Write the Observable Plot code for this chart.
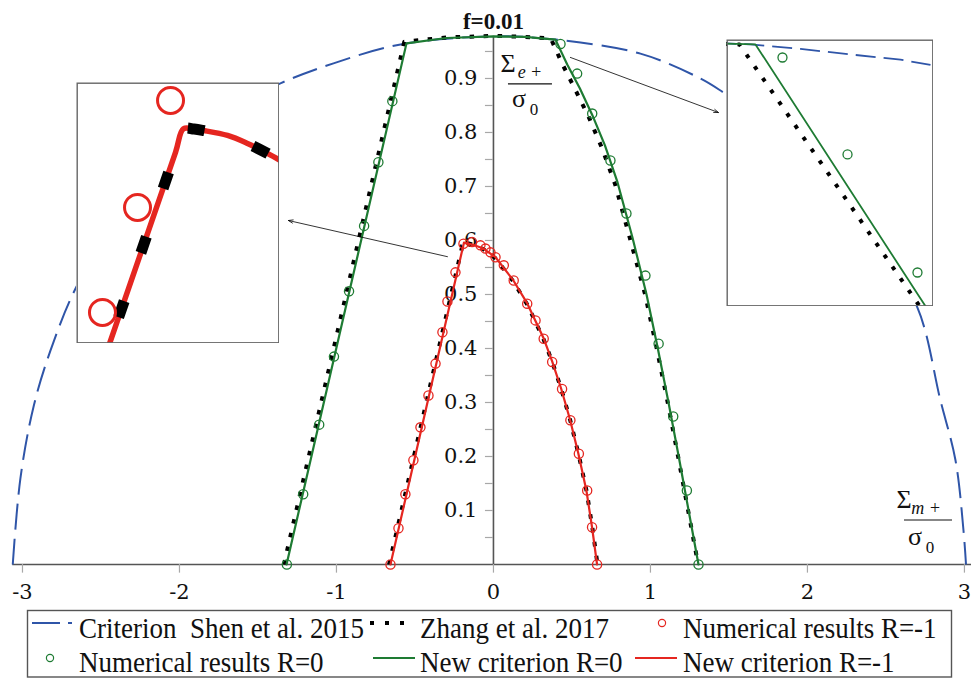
<!DOCTYPE html>
<html>
<head>
<meta charset="utf-8">
<script src="https://cdn.jsdelivr.net/npm/d3@7"></script>
<script src="https://cdn.jsdelivr.net/npm/@observablehq/plot@0.6"></script>
<style>
  html, body { margin: 0; padding: 0; background: #fff; }
  #fig { position: relative; width: 971px; height: 679px; overflow: hidden; background: #fff; }
  #fig svg { position: absolute; }
</style>
</head>
<body>
<div id="fig"></div>
<script>
// Yield surfaces for porosity f = 0.01: Σe+/σ0 against Σm+/σ0.

const title = "f=0.01";

// Criterion of Shen et al. 2015 (blue long dashes)
const shen2015 = [
  [-3.062, 0.000], [-3.013, 0.160], [-2.928, 0.294], [-2.822, 0.396], [-2.662, 0.511],
  [-2.400, 0.640], [-2.050, 0.760], [-1.700, 0.840], [-1.357, 0.891], [-1.019, 0.928],
  [-0.592, 0.963], [0.000, 0.978], [0.395, 0.972], [0.936, 0.946], [1.318, 0.900],
  [1.465, 0.874], [1.800, 0.805], [2.150, 0.715], [2.450, 0.590], [2.700, 0.476],
  [2.847, 0.304], [2.943, 0.193], [2.994, 0.063], [3.010, 0.000]
];

// Zhang et al. 2017 (black dots), R = 0 and R = -1
const zhangR0 = [
  [-1.335, 0.000], [-0.568, 0.968], [-0.300, 0.976], [0.000, 0.979], [0.200, 0.977],
  [0.365, 0.974], [0.440, 0.926], [0.520, 0.880], [0.605, 0.830], [0.690, 0.772],
  [0.775, 0.704], [0.873, 0.600], [0.966, 0.500], [1.040, 0.400], [1.110, 0.300],
  [1.176, 0.200], [1.240, 0.100], [1.304, 0.000]
];
const zhangRm1 = [
  [-0.665, 0.000], [-0.192, 0.598], [-0.130, 0.592], [-0.064, 0.584], [0.013, 0.567],
  [0.127, 0.524], [0.216, 0.481], [0.318, 0.418], [0.376, 0.374], [0.434, 0.323],
  [0.490, 0.266], [0.543, 0.203], [0.594, 0.135], [0.630, 0.068], [0.663, 0.000]
];

// New criterion, R = 0 (green) and R = -1 (red)
const newR0 = [
  [-1.318, 0.000], [-0.554, 0.965], [-0.300, 0.975], [0.000, 0.978], [0.200, 0.977],
  [0.395, 0.972], [0.470, 0.926], [0.550, 0.882], [0.630, 0.832], [0.710, 0.776],
  [0.790, 0.708], [0.885, 0.606], [0.975, 0.500], [1.047, 0.400], [1.115, 0.300],
  [1.180, 0.200], [1.243, 0.100], [1.306, 0.000]
];
const newRm1 = [
  [-0.656, 0.000], [-0.188, 0.596], [-0.130, 0.592], [-0.064, 0.585], [0.013, 0.569],
  [0.127, 0.526], [0.216, 0.483], [0.318, 0.420], [0.374, 0.376], [0.432, 0.325],
  [0.488, 0.268], [0.541, 0.205], [0.592, 0.137], [0.628, 0.069], [0.660, 0.000]
];

// Numerical results (open circles)
const numR0 = [
  [-1.316, 0.000], [-1.212, 0.130], [-1.110, 0.259], [-1.016, 0.385], [-0.920, 0.506],
  [-0.824, 0.627], [-0.733, 0.745], [-0.644, 0.858],
  [0.427, 0.964], [0.533, 0.909], [0.629, 0.835], [0.745, 0.748], [0.847, 0.650],
  [0.968, 0.535], [1.052, 0.409], [1.145, 0.274], [1.232, 0.137], [1.306, 0.000]
];
const numRm1 = [
  [-0.656, 0.000], [-0.605, 0.067], [-0.561, 0.130], [-0.510, 0.193], [-0.465, 0.254],
  [-0.414, 0.313], [-0.369, 0.372], [-0.325, 0.430], [-0.293, 0.487], [-0.242, 0.541],
  [-0.191, 0.594], [-0.136, 0.597], [-0.083, 0.591], [-0.051, 0.585], [-0.019, 0.578],
  [0.013, 0.569], [0.066, 0.554], [0.129, 0.526], [0.215, 0.483], [0.268, 0.452],
  [0.320, 0.418], [0.374, 0.375], [0.437, 0.325], [0.490, 0.267], [0.544, 0.205],
  [0.597, 0.137], [0.628, 0.069], [0.660, 0.000]
];

// Axis ticks
const xTicks = [-3, -2, -1, 0, 1, 2, 3];
const yTicks = [0.1, 0.2, 0.3, 0.4, 0.5, 0.6, 0.7, 0.8, 0.9];
const yMinorTicks = [0.05, 0.1, 0.15, 0.2, 0.25, 0.3, 0.35, 0.4, 0.45, 0.5,
                     0.55, 0.6, 0.65, 0.7, 0.75, 0.8, 0.85, 0.9, 0.95];

// Magnified view near the peak of the R = -1 surface
const zoomLeftDomain = {x: [-0.368, -0.0297], y: [0.460, 0.6231]};
const zoomLeftNew = [
  [-0.323, 0.449], [-0.2030, 0.5795], [-0.1897, 0.5942], [-0.1720, 0.5940],
  [-0.1563, 0.5931], [-0.1163, 0.5900], [-0.0830, 0.5850], [-0.0497, 0.5788], [-0.0197, 0.5725]
];
const zoomLeftZhang = [
  [-0.323, 0.449], [-0.2030, 0.5795], [-0.1897, 0.5942], [-0.1720, 0.5940],
  [-0.1563, 0.5931], [-0.1163, 0.5900], [-0.0830, 0.5850], [-0.0497, 0.5788], [-0.0197, 0.5725]
];
const zoomLeftNum = [[-0.2113, 0.6119], [-0.2663, 0.5450], [-0.3247, 0.4794]];

// Magnified view near the right corner of the R = 0 surface
const zoomRightDomain = {x: [0.347, 0.692], y: [0.8179, 0.975]};
const zoomRightShen = [
  [0.330, 0.9729], [0.387, 0.9721], [0.4703, 0.9695], [0.5537, 0.9662],
  [0.637, 0.9631], [0.687, 0.9601]
];
const zoomRightZhang = [[0.337, 0.9724], [0.3687, 0.9721], [0.6553, 0.8250], [0.676, 0.8144]];
const zoomRightNew = [[0.337, 0.9726], [0.3953, 0.9721], [0.6703, 0.8226], [0.6833, 0.8156]];
const zoomRightNum = [[0.4403, 0.9644], [0.5487, 0.9074], [0.6653, 0.8379]];

// Pointers from each region to its magnified view
const zoomArrows = [
  {x1: -0.293, y1: 0.570, x2: -1.306, y2: 0.637},
  {x1: 0.490, y1: 0.939, x2: 1.433, y2: 0.837}
];

// Legend
const legendEntries = [
  {label: "Criterion  Shen et al. 2015", kind: "shen"},
  {label: "Zhang et al. 2017", kind: "zhang"},
  {label: "Numerical results R=-1", kind: "numRm1"},
  {label: "Numerical results R=0", kind: "numR0"},
  {label: "New criterion R=0", kind: "newR0"},
  {label: "New criterion R=-1", kind: "newRm1"}
];

// ---------------- drawing ----------------
const BLUE = "#2f55a8", GREEN = "#1e7b33", RED = "#e52620", BLACK = "#000";
const AXIS = "#555", TICK = "#a8a8a8", INK = "#111";
const xy = {x: d => d[0], y: d => d[1]};
const fig = document.getElementById("fig");

const main = Plot.plot({
  width: 971, height: 610,
  marginTop: 0, marginRight: 0, marginBottom: 46, marginLeft: 0,
  x: {domain: [-3.14, 3.045], axis: null},
  y: {domain: [0, 1.0444], axis: null},
  style: {background: "transparent", fontFamily: "'Liberation Serif', serif", overflow: "visible"},
  marks: [
    // axes through the origin
    Plot.ruleY([0], {x1: -3.062, x2: 3.045, stroke: AXIS, strokeWidth: 1.6}),
    Plot.ruleX(xTicks, {x: d => d, y1: 0, y2: -0.016, stroke: TICK, strokeWidth: 1.2}),
    Plot.text(xTicks, {x: d => d, y: 0, dy: 28, text: d => String(d),
      fontFamily: "DejaVu Serif", fontSize: 21, fill: INK}),
    Plot.ruleX([0], {y1: 0, y2: 0.978, stroke: AXIS, strokeWidth: 1.6}),
    Plot.ruleY(yMinorTicks, {y: d => d, x1: -0.051, x2: 0, stroke: TICK, strokeWidth: 1.2}),
    Plot.text(yTicks, {x: 0, y: d => d, dx: -16, textAnchor: "end", text: d => d.toFixed(1),
      fontFamily: "DejaVu Serif", fontSize: 21, fill: INK}),
    Plot.text([title], {x: 0, frameAnchor: "top", dy: 12, fontFamily: "Liberation Serif",
      fontWeight: "bold", fontSize: 23, fill: INK}),

    // curves
    Plot.line(shen2015, {...xy, stroke: BLUE, strokeWidth: 2, strokeDasharray: "26,9",
      strokeLinecap: "butt", curve: "catmull-rom"}),
    Plot.line(zhangR0, {...xy, stroke: BLACK, strokeWidth: 4, strokeDasharray: "4.5,9.5", strokeLinecap: "butt"}),
    Plot.line(zhangRm1, {...xy, stroke: BLACK, strokeWidth: 4, strokeDasharray: "4.5,9.5", strokeLinecap: "butt"}),
    Plot.line(newR0, {...xy, stroke: GREEN, strokeWidth: 2.2}),
    Plot.line(newRm1, {...xy, stroke: RED, strokeWidth: 2.2}),
    Plot.dot(numR0, {...xy, r: 4.6, stroke: GREEN, strokeWidth: 1.3}),
    Plot.dot(numRm1, {...xy, r: 4.6, stroke: RED, strokeWidth: 1.3}),

    Plot.arrow(zoomArrows, {x1: "x1", y1: "y1", x2: "x2", y2: "y2", stroke: BLACK,
      strokeWidth: 0.8, headLength: 9, headAngle: 40})
  ]
});
main.style.left = "0px";
main.style.top = "0px";
fig.appendChild(main);

// Σ/σ0 style axis titles
const xs = main.scale("x"), ys = main.scale("y");
const g = d3.select(main).append("g").attr("fill", INK).attr("font-family", "'Liberation Serif', serif");
function fraction(left, barY, barW, num, numSub, den, denSub, denDrop) {
  g.append("text").attr("x", left).attr("y", barY - 12).attr("font-size", 26).text(num);
  g.append("text").attr("x", left + 22).attr("y", barY - 6).attr("font-size", 18)
    .attr("font-style", "italic").style("white-space", "pre").text(numSub);
  g.append("line").attr("x1", left).attr("x2", left + barW).attr("y1", barY).attr("y2", barY)
    .attr("stroke", INK).attr("stroke-width", 1.2);
  g.append("text").attr("x", left + 11).attr("y", barY + denDrop).attr("font-size", 26).text(den);
  g.append("text").attr("x", left + 26).attr("y", barY + denDrop + 8).attr("font-size", 17).text(denSub);
}
fraction(xs.apply(0) + 15, ys.apply(0.978) + 48, 44, "Σ", "e +", "σ", "0", 23);
fraction(xs.apply(3.045) - 67, ys.apply(0) - 44, 48, "Σ", "m +", "σ", "0", 25);

// magnified views
function zoomView(domain, w, h, left, top, marks) {
  const svg = Plot.plot({
    width: w, height: h, margin: 0,
    x: {domain: domain.x, axis: null},
    y: {domain: domain.y, axis: null},
    style: {background: "#fff", overflow: "hidden"},
    marks: [...marks, Plot.frame({stroke: "#666", strokeWidth: 1.4, inset: 0.7})]
  });
  svg.style.left = left + "px";
  svg.style.top = top + "px";
  svg.style.overflow = "hidden";
  fig.appendChild(svg);
}
zoomView(zoomLeftDomain, 203, 261, 76, 82, [
  Plot.line(zoomLeftNew, {...xy, stroke: RED, strokeWidth: 5.5, curve: "catmull-rom"}),
  Plot.line(zoomLeftZhang, {...xy, stroke: BLACK, strokeWidth: 11, strokeDasharray: "17,51",
    strokeDashoffset: 21.5, strokeLinecap: "butt", strokeLinejoin: "miter", curve: "catmull-rom"}),
  Plot.dot(zoomLeftNum, {...xy, r: 13, stroke: RED, strokeWidth: 3})
]);
zoomView(zoomRightDomain, 207, 267, 726, 39, [
  Plot.line(zoomRightShen, {...xy, stroke: BLUE, strokeWidth: 1.8, strokeDasharray: "20,8", strokeLinecap: "butt"}),
  Plot.line(zoomRightZhang, {...xy, stroke: BLACK, strokeWidth: 4, strokeDasharray: "4,10.3",
    strokeDashoffset: 11.6, strokeLinecap: "butt"}),
  Plot.line(zoomRightNew, {...xy, stroke: GREEN, strokeWidth: 1.8}),
  Plot.dot(zoomRightNum, {...xy, r: 4.5, stroke: GREEN, strokeWidth: 1.3})
]);

// legend below the plot
const slots = [
  {sx: 32, tx: 79, row: 0}, {sx: 368, tx: 420, row: 0}, {sx: 662, tx: 683, row: 0},
  {sx: 50, tx: 79, row: 1}, {sx: 373, tx: 420, row: 1}, {sx: 635, tx: 683, row: 1}
];
const legend = d3.create("svg").attr("width", 971).attr("height", 71)
  .style("left", "0px").style("top", "608px");
legend.append("rect").attr("x", 27.5).attr("y", 2.5).attr("width", 924).attr("height", 66.5)
  .attr("fill", "#fff").attr("stroke", "#555").attr("stroke-width", 1.4);
const symY = [15, 50], baseY = [30, 64];
legendEntries.forEach((e, i) => {
  const s = slots[i], y = symY[s.row];
  if (e.kind === "shen") {
    legend.append("line").attr("x1", s.sx).attr("x2", s.sx + 40).attr("y1", y).attr("y2", y)
      .attr("stroke", BLUE).attr("stroke-width", 2).attr("stroke-dasharray", "28,8");
  } else if (e.kind === "zhang") {
    legend.append("line").attr("x1", s.sx + 2).attr("x2", s.sx + 36).attr("y1", y).attr("y2", y)
      .attr("stroke", BLACK).attr("stroke-width", 4).attr("stroke-dasharray", "4,11");
  } else if (e.kind === "numR0" || e.kind === "numRm1") {
    legend.append("circle").attr("cx", s.sx).attr("cy", y).attr("r", 3.6).attr("fill", "none")
      .attr("stroke", e.kind === "numR0" ? GREEN : RED).attr("stroke-width", 1.2);
  } else {
    legend.append("line").attr("x1", s.sx).attr("x2", s.sx + 42).attr("y1", y).attr("y2", y)
      .attr("stroke", e.kind === "newR0" ? GREEN : RED).attr("stroke-width", 2.2);
  }
  legend.append("text").attr("transform", `translate(${s.tx},${baseY[s.row]}) scale(1,1.1)`)
    .attr("font-family", "'Liberation Serif', serif").attr("font-size", 27).attr("fill", INK)
    .style("white-space", "pre").text(e.label);
});
fig.appendChild(legend.node());
</script>
</body>
</html>
